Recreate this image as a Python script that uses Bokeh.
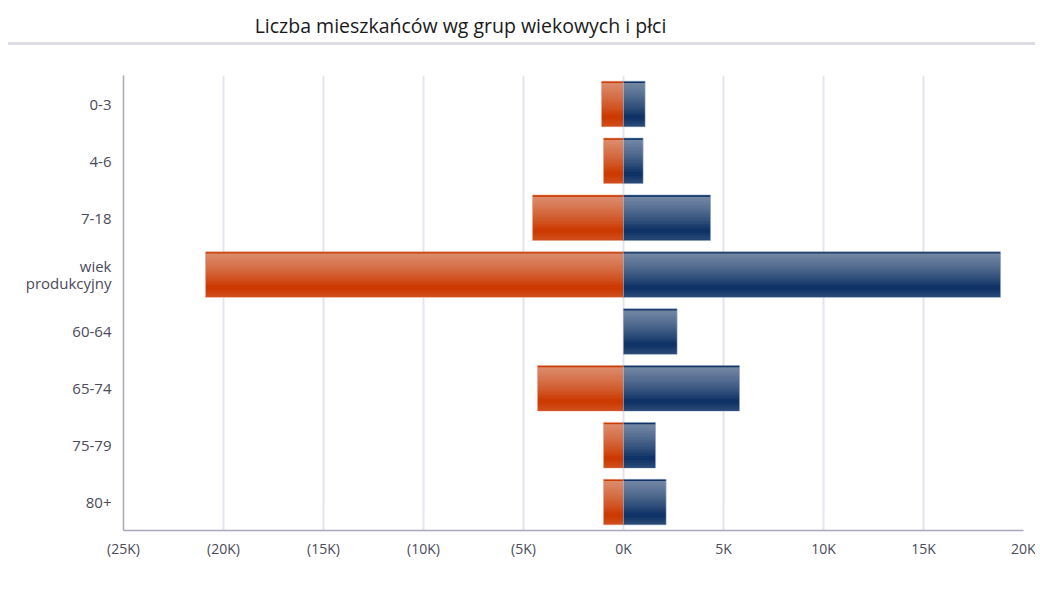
from bokeh.plotting import figure
from bokeh.models import (Range1d, FactorRange, FixedTicker, Label, Legend, LegendItem,
                          ColumnDataSource, Div)
from bokeh.layouts import column
from bokeh.transform import dodge
from bokeh.embed import file_html
from bokeh.resources import INLINE

# ---- data ----
groups = ["0-3", "4-6", "7-18", "wiek\nprodukcyjny", "60-64", "65-74", "75-79", "80+"]
male = [1100, 1000, 4550, 20900, 0, 4300, 1000, 1000]
female = [1080, 980, 4350, 18850, 2680, 5800, 1600, 2130]
tick_values = [-25000, -20000, -15000, -10000, -5000, 0, 5000, 10000, 15000, 20000]
tick_labels = ["(25K)", "(20K)", "(15K)", "(10K)", "(5K)", "0K", "5K", "10K", "15K", "20K"]
series_names = ["mężczyzna", "kobieta"]
title_text = "Liczba mieszkańców wg grup wiekowych i płci"

FONT = "Open Sans"
ORANGE = "#cc3a02"
BLUE = "#0f3366"
TXT = "#4a4a5a"

src = ColumnDataSource(dict(
    group=groups,
    male_neg=[-m for m in male],
    female=female,
))

# ---- title strip ----
t = figure(frame_width=900, height=42, x_range=Range1d(0, 1), y_range=Range1d(0, 1),
           toolbar_location=None, output_backend="svg",
           min_border_left=123, min_border_right=12, min_border_top=0, min_border_bottom=0)
t.axis.visible = False
t.grid.visible = False
t.outline_line_color = None
t.add_layout(Label(x=337, y=17, x_units="screen", y_units="screen", text=title_text,
                   text_align="center", text_baseline="middle", text_font=FONT,
                   text_font_size="19.5px", text_color="#1a1a1a"))

sep = Div(width=1027, height=3, margin=(0, 0, 0, 8),
          styles={"background-color": "#dcdce4"})

# ---- main chart ----
p = figure(frame_width=900, frame_height=455,
           y_range=FactorRange(factors=list(reversed(groups))),
           x_range=Range1d(tick_values[0], tick_values[-1]),
           toolbar_location=None, output_backend="svg",
           min_border_left=123, min_border_right=12, min_border_top=30, min_border_bottom=64)
p.outline_line_color = None

H = 0.8
r_m = p.hbar(y="group", left="male_neg", right=0, height=H, source=src,
             fill_color=ORANGE, line_color="#eaa88c", line_alpha=0.5, line_width=1)
r_f = p.hbar(y="group", left=0, right="female", height=H, source=src,
             fill_color=BLUE, line_color="#90a4c4", line_alpha=0.5, line_width=1)

# gradient-like sheen: nested white strips hanging from near the top of each bar
TOP = 0.37
SHEEN_H = [0.04 * k for k in range(1, 15)]
for col_l, col_r in (("male_neg", 0), (0, "female")):
    for h in SHEEN_H:
        p.hbar(y=dodge("group", TOP - h / 2, range=p.y_range), left=col_l, right=col_r,
               height=h, source=src, fill_color="white", fill_alpha=0.038, line_color=None)
    for h in (0.04, 0.08, 0.12):
        p.hbar(y=dodge("group", -0.39 + h / 2, range=p.y_range), left=col_l, right=col_r,
               height=h, source=src, fill_color="white", fill_alpha=0.035, line_color=None)

p.xaxis.ticker = FixedTicker(ticks=tick_values)
p.xaxis.major_label_overrides = {v: l for v, l in zip(tick_values, tick_labels)}

for ax in (p.xaxis[0], p.yaxis[0]):
    ax.axis_line_color = "#a9a9b8"
    ax.axis_line_width = 1.5
    ax.major_tick_line_color = None
    ax.minor_tick_line_color = None
    ax.major_tick_out = 0
    ax.major_tick_in = 0
    ax.major_label_text_font = FONT
    ax.major_label_text_color = TXT
p.xaxis.major_label_text_font_size = "14px"
p.yaxis.major_label_text_font_size = "15px"
p.yaxis.major_label_text_line_height = 0.85
p.xaxis.major_label_standoff = 8
p.yaxis.major_label_standoff = 12

p.xgrid.grid_line_color = "#e4e4ee"
p.xgrid.grid_line_width = 2
p.ygrid.grid_line_color = None

legend = Legend(items=[LegendItem(label=series_names[0], renderers=[r_m]),
                       LegendItem(label=series_names[1], renderers=[r_f])],
                orientation="horizontal", location=(280, -60),
                label_text_font=FONT, label_text_font_size="14px", label_text_color="#333344",
                glyph_width=14, glyph_height=16, spacing=4, label_standoff=3,
                label_height=16, padding=1, margin=0,
                border_line_color=None, background_fill_alpha=0)
p.add_layout(legend)

layout = column(t, sep, p, spacing=0)
open("out.html", "w").write(file_html(layout, INLINE))
